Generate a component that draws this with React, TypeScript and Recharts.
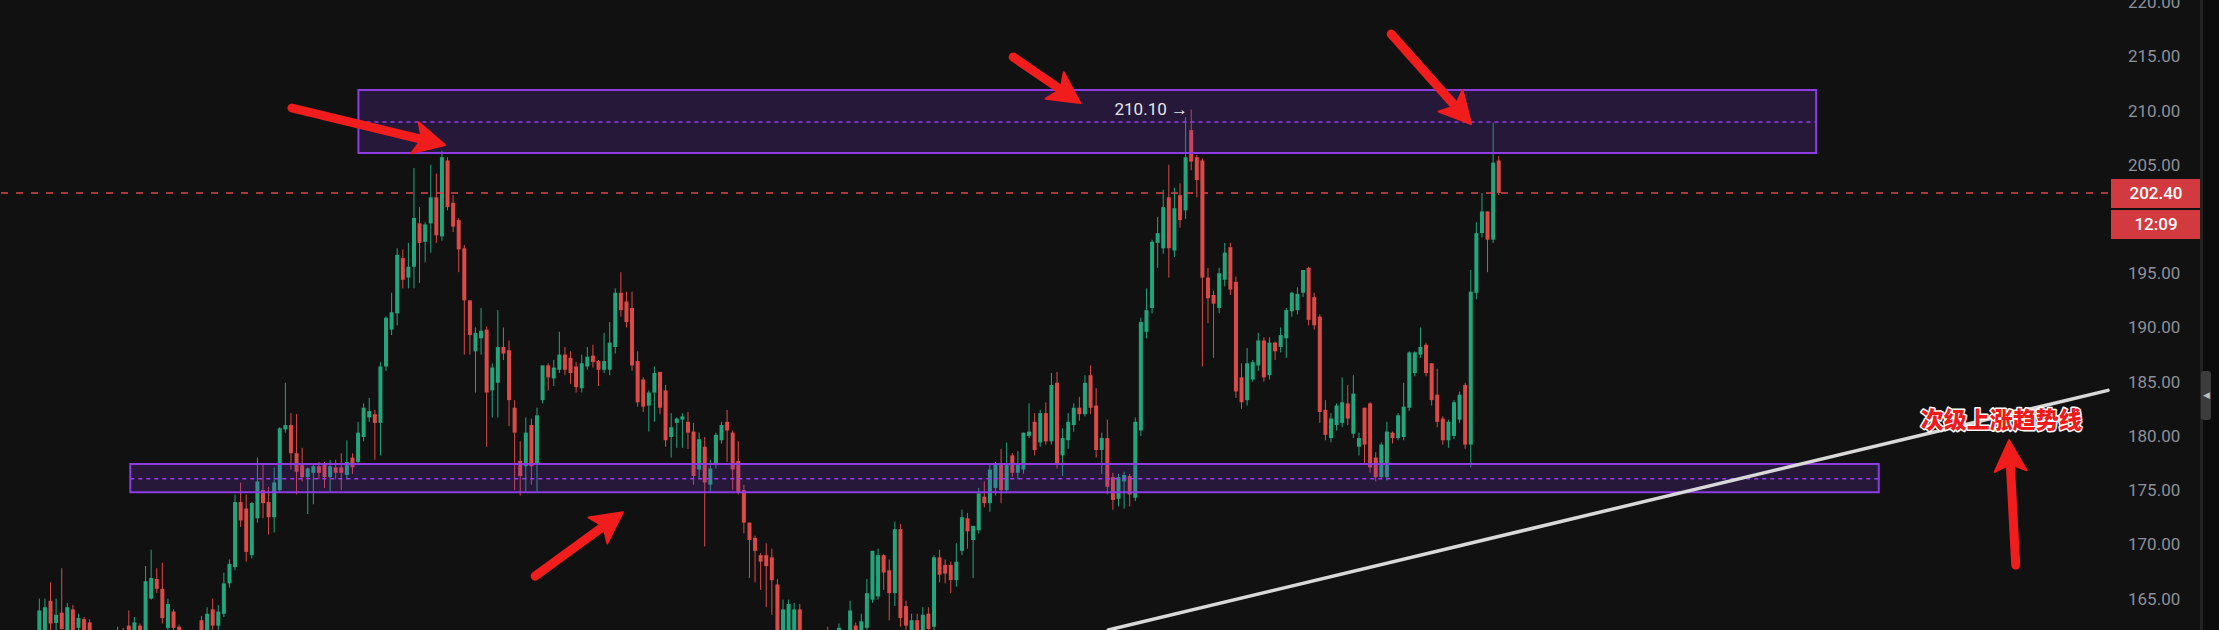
import React from 'react'
import {
  ComposedChart,
  Bar,
  XAxis,
  YAxis,
  ReferenceArea,
  ReferenceLine,
  ReferenceDot,
} from 'recharts'

// OHLC, one entry per candle (first few sit below the visible range)
const opens = [
  159.8, 160.9, 160.2, 161.3, 160.6, 159.9, 160.8,
  161.0, 161.5, 164.8, 162.75, 163.7, 161.5, 164.0, 162.3, 163.1, 162.8,
  161.5, 160.4, 161.2, 160.5, 160.8, 162.0, 162.5, 161.3, 162.5, 161.8,
  165.0, 166.8, 165.9, 162.3, 163.8, 162.4, 161.6, 161.1, 160.4, 163.0,
  161.9, 164.0, 162.5, 163.6, 166.4, 167.9, 173.9, 173.3, 169.0, 172.4,
  175.0, 173.9, 172.5, 175.0, 180.6, 181.0, 178.4, 177.3, 176.2, 176.6,
  177.2, 177.4, 176.2, 177.1, 177.1, 176.4, 178.0, 177.6, 179.9, 181.7,
  182.0, 181.2, 186.4, 189.8, 191.3, 196.4, 194.6, 195.6, 199.6, 197.9,
  199.6, 202.0, 198.4, 205.4, 201.5, 199.9, 197.3, 192.5, 187.8, 189.0,
  189.8, 184.2, 184.9, 188.2, 187.9, 182.6, 177.7, 177.2, 181.0, 177.5,
  183.3, 186.5, 185.3, 186.1, 187.5, 187.2, 186.4, 184.4, 186.4, 187.4,
  186.9, 186.1, 186.1, 188.2, 193.2, 192.4, 191.8, 186.9, 185.2, 182.8,
  184.0, 185.9, 184.2, 179.9, 181.2, 181.5, 181.3, 180.4, 176.9, 179.0,
  175.5, 177.5, 179.6, 181.3, 180.3, 177.7, 175.0, 172.0, 170.6, 169.0,
  169.0, 168.8, 166.3, 161.5, 161.6, 161.8, 164.0, 161.5, 160.2, 160.9,
  160.0, 162.0, 160.8, 161.2, 162.0, 161.0, 162.5, 161.3, 162.3, 164.9,
  165.2, 169.0, 167.6, 165.5, 171.4, 164.3, 161.8, 163.0, 162.0, 163.6,
  162.4, 168.8, 168.1, 168.1, 166.7, 169.4, 172.4, 170.4, 171.3, 174.4,
  173.8, 175.2, 177.5, 175.0, 178.2, 176.6, 176.9, 180.0, 181.3, 179.4,
  182.1, 179.5, 184.9, 178.2, 179.6, 181.0, 182.6, 182.0, 185.6, 182.8,
  178.7, 179.8, 176.2, 174.2, 175.8, 176.3, 174.3, 180.5, 189.6, 191.8,
  197.8, 197.3, 202.0, 197.1, 202.2, 200.8, 208.2, 205.7, 205.4, 194.6,
  193.0, 191.8, 194.4, 197.4, 194.2, 185.4, 183.3, 185.2, 186.5, 188.8,
  185.6, 188.6, 188.2, 189.0, 191.5, 191.6, 193.2, 195.5, 192.8, 191.0,
  182.4, 179.8, 181.0, 181.2, 183.0, 180.2, 179.0, 182.6, 183.0, 178.0,
  176.2, 176.2, 180.3, 179.8, 179.9, 182.6, 185.8, 187.5, 188.4, 186.7,
  183.8, 181.6, 179.6, 180.0, 181.5, 184.7, 179.2, 193.2, 198.7, 200.7,
  198.1, 205.4,
]

const highs = [
  161.4, 161.7, 161.8, 161.9, 161.5, 161.2, 161.6,
  165.0, 165.0, 166.5, 165.0, 167.8, 164.6, 164.4, 163.6, 163.3, 163.1,
  161.9, 161.6, 161.8, 161.4, 162.4, 162.3, 163.9, 163.3, 162.7, 168.0,
  169.5, 167.8, 168.3, 165.0, 164.0, 162.6, 161.9, 161.8, 161.7, 163.4,
  164.2, 165.0, 164.4, 167.4, 168.6, 174.6, 175.7, 174.6, 173.9, 178.0,
  177.5, 175.3, 177.1, 180.8, 184.9, 182.1, 182.0, 178.9, 177.1, 177.4,
  177.6, 177.6, 177.8, 177.8, 178.4, 179.6, 178.4, 181.3, 183.0, 183.5,
  182.4, 186.8, 191.0, 193.2, 197.3, 197.2, 197.8, 204.7, 201.1, 199.7,
  205.0, 204.2, 206.3, 205.7, 202.2, 200.1, 197.6, 192.5, 190.0, 191.8,
  190.1, 186.7, 191.6, 190.0, 188.8, 183.3, 179.5, 181.7, 181.6, 182.6,
  186.5, 186.7, 187.0, 189.6, 188.2, 187.8, 186.8, 187.5, 188.2, 188.4,
  187.0, 189.5, 190.5, 193.6, 195.1, 193.3, 193.3, 187.8, 185.4, 184.2,
  186.4, 185.9, 184.7, 182.1, 181.7, 182.1, 182.2, 181.2, 180.3, 179.9,
  177.8, 180.3, 181.3, 182.4, 180.5, 179.5, 175.5, 172.0, 170.8, 169.2,
  170.1, 169.6, 166.8, 164.9, 164.9, 164.6, 164.5, 161.9, 161.2, 161.5,
  161.6, 162.4, 161.5, 162.7, 162.0, 164.8, 162.8, 163.6, 166.8, 169.4,
  169.6, 169.1, 168.6, 172.1, 171.9, 164.8, 163.6, 163.6, 164.2, 164.2,
  169.0, 169.5, 168.6, 168.4, 170.1, 173.2, 172.9, 171.7, 175.2, 175.8,
  177.5, 177.6, 178.8, 179.4, 178.4, 178.6, 180.3, 183.0, 182.1, 182.4,
  183.1, 185.8, 185.9, 180.7, 182.1, 183.0, 183.6, 185.6, 186.5, 184.4,
  180.3, 181.5, 176.6, 176.5, 176.7, 176.5, 181.7, 190.9, 193.6, 198.1,
  200.2, 202.7, 205.0, 202.9, 203.3, 209.4, 210.1, 205.9, 205.6, 195.5,
  193.4, 195.5, 197.8, 197.8, 194.7, 186.7, 188.1, 187.0, 189.5, 189.1,
  189.1, 188.7, 190.0, 191.8, 193.3, 193.7, 195.3, 195.6, 193.2, 191.2,
  183.3, 182.1, 183.0, 185.4, 184.7, 185.6, 180.3, 182.6, 183.1, 178.5,
  179.4, 181.3, 180.4, 182.1, 184.9, 187.8, 187.8, 190.0, 188.6, 186.7,
  186.2, 181.8, 181.5, 183.3, 184.1, 184.9, 195.3, 199.7, 202.4, 200.7,
  208.9, 205.8,
]

const lows = [
  158.9, 159.6, 159.4, 159.8, 159.3, 158.8, 159.5,
  160.0, 160.8, 161.5, 161.8, 160.5, 160.8, 161.0, 161.2, 160.5, 160.2,
  160.0, 159.6, 160.1, 159.7, 160.0, 160.1, 160.5, 160.8, 160.9, 161.3,
  164.9, 165.5, 162.7, 161.8, 161.5, 161.0, 160.6, 159.9, 160.0, 161.0,
  161.2, 162.0, 162.0, 163.3, 166.0, 167.6, 171.6, 168.4, 168.7, 172.0,
  172.4, 170.9, 171.1, 174.8, 180.3, 176.9, 174.6, 175.8, 172.8, 173.7,
  176.0, 175.2, 174.8, 176.0, 175.0, 176.0, 176.5, 177.3, 179.5, 181.3,
  177.8, 178.2, 186.0, 189.3, 190.2, 193.6, 193.6, 193.6, 194.1, 196.0,
  196.9, 197.8, 198.0, 200.8, 198.8, 195.1, 187.5, 187.5, 184.0, 187.5,
  179.0, 181.7, 181.7, 187.0, 180.9, 175.0, 174.5, 174.8, 175.5, 174.9,
  183.0, 184.2, 184.6, 185.8, 185.6, 184.8, 184.0, 184.0, 186.1, 186.3,
  184.6, 185.8, 185.6, 187.6, 191.0, 190.0, 186.0, 182.7, 182.2, 180.4,
  181.3, 182.0, 179.0, 178.0, 178.9, 178.9, 178.8, 175.5, 176.0, 169.8,
  174.8, 177.0, 179.3, 177.6, 175.0, 174.6, 171.0, 166.9, 166.5, 165.8,
  164.2, 163.5, 160.5, 160.8, 161.0, 161.2, 160.8, 159.5, 159.0, 159.8,
  159.4, 160.2, 159.9, 160.6, 160.4, 160.7, 160.5, 160.9, 161.9, 164.6,
  164.9, 165.8, 163.0, 164.3, 162.4, 161.3, 161.0, 161.2, 161.4, 161.4,
  162.0, 166.5, 166.4, 165.5, 166.1, 169.0, 169.6, 166.9, 171.0, 173.4,
  173.0, 174.5, 173.8, 174.8, 176.2, 176.0, 176.5, 179.8, 178.2, 179.0,
  179.2, 179.2, 177.0, 176.3, 178.8, 180.4, 181.4, 181.8, 182.0, 178.0,
  176.5, 174.6, 173.2, 173.5, 173.3, 173.5, 174.0, 180.0, 189.0, 191.3,
  195.5, 196.8, 194.6, 196.5, 199.2, 200.0, 204.5, 202.0, 186.4, 190.4,
  187.2, 191.3, 193.8, 193.0, 183.5, 182.5, 182.8, 185.0, 186.0, 185.0,
  185.2, 187.0, 187.7, 187.2, 191.0, 191.2, 192.8, 190.2, 189.8, 181.2,
  179.6, 179.4, 180.5, 180.8, 181.0, 179.8, 178.2, 177.5, 176.6, 175.8,
  176.0, 175.9, 179.3, 179.6, 179.6, 182.3, 185.5, 187.2, 185.5, 182.8,
  180.8, 179.2, 178.9, 179.7, 181.2, 178.8, 177.1, 192.6, 198.3, 195.1,
  197.8, 202.2,
]

const closes = [
  160.9, 160.2, 161.3, 160.6, 159.9, 160.8, 161.0,
  163.9, 164.2, 162.7, 163.5, 162.2, 164.2, 162.0, 163.2, 162.0, 161.5,
  160.4, 161.2, 160.5, 160.8, 162.0, 161.0, 161.2, 162.8, 161.5, 166.6,
  166.9, 165.9, 163.2, 164.5, 162.3, 161.6, 161.1, 160.4, 161.4, 161.8,
  163.6, 162.5, 163.8, 166.4, 168.2, 173.9, 172.2, 169.3, 173.8, 175.8,
  173.8, 172.5, 175.7, 180.7, 181.0, 178.4, 176.7, 176.2, 177.0, 177.2,
  176.6, 176.2, 177.2, 176.6, 176.6, 177.6, 177.1, 180.3, 182.6, 182.3,
  181.2, 186.4, 190.9, 191.4, 196.7, 194.4, 195.6, 200.1, 197.8, 199.5,
  202.0, 198.5, 205.7, 201.1, 199.3, 197.2, 192.5, 189.3, 189.5, 189.7,
  184.0, 186.3, 188.2, 187.6, 183.3, 180.3, 176.3, 180.3, 177.2, 181.9,
  186.5, 185.4, 186.3, 187.5, 186.1, 185.8, 184.5, 186.7, 187.3, 186.8,
  186.1, 186.9, 188.6, 193.2, 191.6, 190.5, 186.5, 183.1, 182.7, 184.0,
  185.8, 182.6, 179.6, 180.8, 181.6, 181.8, 180.3, 176.3, 179.7, 175.7,
  177.0, 180.1, 181.0, 180.5, 176.9, 174.8, 172.0, 170.4, 169.4, 168.4,
  168.0, 166.7, 161.8, 164.0, 164.5, 164.0, 161.5, 160.2, 160.9, 160.0,
  161.2, 160.8, 161.3, 162.3, 160.9, 163.9, 161.2, 162.9, 165.5, 169.4,
  169.0, 167.4, 165.5, 171.4, 163.2, 162.5, 163.0, 161.9, 163.5, 162.2,
  168.8, 167.2, 167.3, 166.7, 168.4, 172.5, 171.2, 171.7, 174.7, 173.8,
  176.9, 177.5, 175.0, 177.5, 176.6, 177.5, 180.3, 180.4, 178.7, 182.1,
  179.5, 184.7, 177.5, 179.8, 181.3, 182.6, 182.0, 184.9, 182.6, 178.7,
  179.8, 175.3, 174.1, 176.2, 176.4, 174.6, 181.3, 190.5, 191.6, 197.9,
  198.7, 201.1, 197.3, 201.0, 199.9, 205.7, 205.3, 203.6, 194.6, 192.7,
  192.2, 195.0, 196.9, 193.5, 184.1, 183.1, 186.7, 186.8, 188.8, 185.4,
  188.6, 187.8, 189.3, 191.6, 193.2, 193.1, 195.3, 190.7, 190.2, 182.2,
  180.1, 181.6, 182.8, 183.1, 181.6, 183.9, 179.8, 179.2, 177.1, 176.2,
  179.2, 180.4, 179.8, 181.9, 182.7, 187.7, 187.7, 188.2, 185.8, 183.3,
  181.3, 179.6, 181.3, 183.1, 183.8, 179.2, 193.3, 198.7, 200.7, 198.1,
  205.2, 202.4,
]

const priceTicks = [165, 170, 175, 180, 185, 190, 195, 200, 205, 210, 215, 220]
const lastPrice = 202.4
const countdown = '12:09'
const peakIndex = 213
const peakPrice = 210.1
const trendText = '次级上涨趋势线'

// zones / drawings, in (bar index, price)
const upperZone = { x1: 64.1, x2: 324.8, y1: 206.1, y2: 211.9, mid: 208.95 }
const lowerZone = { x1: 23.3, x2: 336.0, y1: 174.8, y2: 177.4, mid: 176.05 }
const trendPts = [{ x: 198.2, y: 162.1 }, { x: 377, y: 184.2 }]
const arrows = [
  [{ x: 52.2, y: 210.24 }, { x: 79.6, y: 206.82 }],
  [{ x: 181.2, y: 214.94 }, { x: 193.2, y: 210.7 }],
  [{ x: 248.8, y: 217.06 }, { x: 263.1, y: 208.76 }],
  [{ x: 95.7, y: 167.06 }, { x: 111.4, y: 172.97 }],
  [{ x: 360.5, y: 168.08 }, { x: 359.3, y: 179.61 }],
]
const textAt = { x: 357.9, y: 181.45 }

const BG = '#111111'
const UP = '#22a57d'
const DOWN = '#dc4a47'
const PURPLE = '#8c3ce2'
const ARROW = '#f11d1d'
const TAG = '#d23a3f'

const data = opens.map((o, i) => ({
  i,
  o,
  h: highs[i],
  l: lows[i],
  c: closes[i],
  range: [lows[i], highs[i]],
}))

const Candle = (props: any) => {
  const { x, y, width, height, payload } = props
  if (x == null || y == null) return null
  const top = Math.min(y, y + height)
  const span = Math.abs(height)
  const { o, h, l, c } = payload
  const toY = (v: number) => top + ((h - v) / (h - l || 1)) * span
  const color = c >= o ? UP : DOWN
  const cx = x + width / 2
  const bTop = toY(Math.max(o, c))
  const bBot = toY(Math.min(o, c))
  return (
    <g>
      <line x1={cx} x2={cx} y1={top} y2={top + span} stroke={color} strokeWidth={1} />
      <rect x={x} y={bTop} width={width} height={Math.max(1, bBot - bTop)} fill={color} />
    </g>
  )
}

const Arrow = (p: any) => {
  const { x1, y1, x2, y2 } = p
  const dx = x2 - x1
  const dy = y2 - y1
  const len = Math.hypot(dx, dy) || 1
  const ux = dx / len
  const uy = dy / len
  const nx = -uy
  const ny = ux
  const headL = 31
  const headW = 16
  const bx = x2 - ux * headL
  const by = y2 - uy * headL
  return (
    <g>
      <line
        x1={x1}
        y1={y1}
        x2={bx + ux * 6}
        y2={by + uy * 6}
        stroke={ARROW}
        strokeWidth={9}
        strokeLinecap="round"
      />
      <polygon
        points={`${x2},${y2} ${bx + nx * headW},${by + ny * headW} ${bx + ux * 7},${by + uy * 7} ${bx - nx * headW},${by - ny * headW}`}
        fill={ARROW}
        strokeLinejoin="round"
        stroke={ARROW}
        strokeWidth={2}
      />
    </g>
  )
}

const TrendLine = (p: any) => (
  <line x1={p.x1} y1={p.y1} x2={p.x2} y2={p.y2} stroke="#d9d9d9" strokeWidth={3.5} strokeLinecap="round" />
)

// the price tag hides the axis labels it sits on, as in the reference
const PriceTick = (props: any) => {
  const { x, y, payload } = props
  const v = payload.value
  if (v < lastPrice + 1.4 && v > lastPrice - 4.3) return null
  return (
    <text x={x + 12} y={y} dy={6} fill="#8d9099" fontSize={17} fontFamily="Roboto, sans-serif" textAnchor="start">
      {v.toFixed(2)}
    </text>
  )
}

const PriceTag = (p: any) => {
  const { cx, cy } = p
  const x = cx + 3
  return (
    <g>
      <line x1={cx + 4} x2={cx + 12} y1={cy} y2={cy} stroke={TAG} strokeWidth={1.5} />
      <rect x={x} y={cy - 14} width={90} height={29} fill={TAG} />
      <rect x={x} y={cy + 17} width={90} height={29} fill={TAG} />
      <text x={x + 45} y={cy + 6} fill="#ffffff" fontSize={17} fontWeight={500} textAnchor="middle" fontFamily="Roboto, sans-serif">
        {lastPrice.toFixed(2)}
      </text>
      <text x={x + 45} y={cy + 37} fill="#ffffff" fontSize={17} fontWeight={500} textAnchor="middle" fontFamily="Roboto, sans-serif">
        {countdown}
      </text>
    </g>
  )
}

const PeakLabel = (p: any) => (
  <text x={p.cx - 3} y={p.cy + 5} fill="#e6e6e6" fontSize={17} textAnchor="end" fontFamily="Roboto, sans-serif">
    {peakPrice.toFixed(2)} →
  </text>
)

const TrendLabel = (p: any) => (
  <text
    x={p.cx}
    y={p.cy + 8}
    fill="#ee1b1b"
    stroke="#ffffff"
    strokeWidth={3}
    paintOrder="stroke"
    strokeLinejoin="round"
    fontSize={23}
    fontWeight={900}
    textAnchor="middle"
    fontFamily="'Noto Sans CJK SC', sans-serif"
  >
    {trendText}
  </text>
)

export default function App() {
  return (
    <div
      style={{
        position: 'absolute',
        left: 0,
        top: 0,
        width: 2219,
        height: 630,
        overflow: 'hidden',
        background: BG,
        fontFamily: 'Roboto, sans-serif',
      }}
    >
      <ComposedChart width={2219} height={630} data={data} margin={{ top: 0, right: 0, bottom: 0, left: 0 }}>
        <XAxis type="number" dataKey="i" domain={[0, 377]} hide allowDataOverflow />
        <YAxis
          orientation="right"
          width={111}
          domain={[162.1, 220.2]}
          allowDataOverflow
          ticks={priceTicks}
          interval={0}
          axisLine={false}
          tickLine={false}
          tick={<PriceTick />}
        />
        <Bar dataKey="range" barSize={4} shape={<Candle />} isAnimationActive={false} />

        {[upperZone, lowerZone].map((z, k) => (
          <ReferenceArea
            key={`z${k}`}
            x1={z.x1}
            x2={z.x2}
            y1={z.y1}
            y2={z.y2}
            fill="#6d31c9"
            fillOpacity={0.22}
            stroke={PURPLE}
            strokeWidth={2}
            ifOverflow="visible"
            zIndex={350}
          />
        ))}
        {[upperZone, lowerZone].map((z, k) => (
          <ReferenceLine
            key={`m${k}`}
            segment={[{ x: z.x1, y: z.mid }, { x: z.x2, y: z.mid }]}
            stroke="#9b3df0"
            strokeWidth={1.5}
            strokeDasharray="4 4"
            ifOverflow="visible"
          />
        ))}

        <ReferenceLine y={lastPrice} stroke="#d8474b" strokeWidth={1.5} strokeDasharray="7 8" />
        <ReferenceLine segment={trendPts} shape={TrendLine} ifOverflow="visible" />

        {arrows.map((a, k) => (
          <ReferenceLine key={`a${k}`} segment={a} shape={Arrow} ifOverflow="visible" zIndex={800} />
        ))}

        <ReferenceDot x={peakIndex} y={peakPrice} r={0} shape={PeakLabel} ifOverflow="visible" zIndex={800} />
        <ReferenceDot x={textAt.x} y={textAt.y} r={0} shape={TrendLabel} ifOverflow="visible" zIndex={800} />
        <ReferenceDot x={377} y={lastPrice} r={0} shape={PriceTag} ifOverflow="visible" zIndex={900} />
      </ComposedChart>

      <div style={{ position: 'absolute', left: 2200, top: 0, width: 19, height: 630, background: '#0c0c0c', borderLeft: '3px solid #232323', boxSizing: 'border-box' }} />
      <div
        style={{
          position: 'absolute',
          left: 2201,
          top: 371,
          width: 10,
          height: 49,
          background: '#3c3c3c',
          borderRadius: 3,
          color: '#bdbdbd',
          fontSize: 9,
          lineHeight: '49px',
          textAlign: 'center',
        }}
      >
        ◀
      </div>
    </div>
  )
}
